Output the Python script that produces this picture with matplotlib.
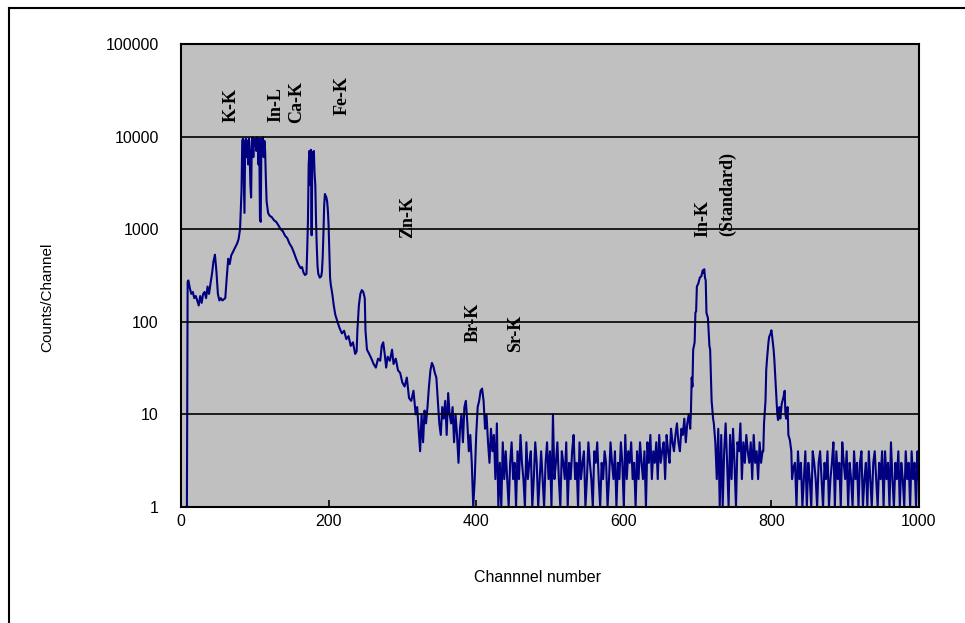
import matplotlib
matplotlib.use("Agg")
import matplotlib.pyplot as plt
from matplotlib.lines import Line2D
import numpy as np

# spectrum (channel, counts), segment by segment
ch_low = [8, 9, 10, 12, 14, 16, 18, 20, 22, 24, 26, 28, 30, 32, 34, 36, 38, 40,
          42, 44, 46, 48, 50, 52, 54, 56, 58, 60, 62, 64, 66, 68, 70, 72, 74,
          76, 78, 80, 82]
ct_low = [1, 270, 280, 230, 200, 210, 180, 190, 170, 150, 190, 160, 200, 210,
          180, 240, 200, 260, 330, 450, 530, 350, 200, 170, 180, 170, 175, 180,
          300, 480, 420, 520, 560, 600, 650, 700, 780, 1000, 2600]

# K-K / In-L
ch_kk = [83, 84, 85, 86, 87, 88, 89, 90, 91, 92, 93, 94, 95, 96, 97, 98, 99,
         100, 101, 102, 103, 104, 105, 106, 107, 108, 109, 110, 111, 112, 113,
         114, 115, 116, 118]
ct_kk = [9000, 9500, 4000, 1500, 9000, 9500, 6000, 9000, 5000, 9500, 7000,
         3000, 2200, 9000, 9800, 6000, 9500, 8000, 9500, 7000, 9800, 9000,
         5000, 9500, 1300, 1200, 9500, 8000, 9800, 6000, 9000, 7000, 3500,
         2000, 1500]

ch_tail = [120, 123, 126, 129, 132, 135, 138, 141, 144, 147, 150, 153, 156,
           159, 162, 164, 166, 168, 170]
ct_tail = [1400, 1350, 1250, 1200, 1100, 1000, 950, 850, 800, 700, 640, 560,
           480, 420, 380, 390, 340, 320, 330]

# Ca-K and Fe-K
ch_cafe = [171, 172, 173, 174, 175, 176, 177, 178, 179, 180, 181, 182, 183,
           184, 185, 186, 188, 190, 191, 192, 193, 194, 195, 196, 197, 198,
           199, 200, 201, 202, 203, 205, 207, 209]
ct_cafe = [600, 1200, 5000, 7000, 3000, 7200, 860, 6800, 6000, 7000, 4000,
           3000, 1200, 640, 400, 330, 300, 310, 350, 500, 900, 1800, 2400,
           2300, 2200, 2000, 1600, 1100, 600, 300, 250, 200, 150, 120]

ch_mid = [212, 215, 218, 221, 224, 227, 230, 233, 236, 238, 239, 241, 243,
          245, 247, 249, 250, 252, 255, 258, 261, 264, 267, 270, 272, 274,
          276, 278, 280, 283, 286, 288, 291, 294, 297, 300]
ct_mid = [100, 85, 75, 80, 65, 70, 55, 60, 45, 48, 80, 150, 200, 220, 210,
          180, 80, 50, 45, 40, 35, 32, 40, 38, 55, 60, 45, 32, 42, 38, 50, 35,
          40, 30, 28, 22]

ch_br = [303, 306, 309, 312, 315, 318, 320, 322, 324, 326, 328, 330, 332, 334,
         336, 338, 340, 342, 344, 346, 348, 350, 352, 354, 356, 358, 360, 362,
         364, 366, 368, 370, 372, 374, 376, 378, 380, 382, 384, 386, 388, 390,
         392, 394, 396, 398, 400, 402, 404, 406, 408, 410, 412, 414, 416, 418,
         420, 422, 424, 426, 428, 430]
ct_br = [20, 25, 15, 14, 18, 10, 12, 7, 4, 10, 5, 11, 8, 12, 20, 30, 36, 33,
         28, 25, 14, 8, 6, 12, 9, 14, 6, 17, 10, 8, 12, 5, 10, 6, 3, 7, 10, 5,
         12, 14, 8, 4, 6, 3, 1, 2, 6, 12, 14, 18, 19, 14, 7, 10, 5, 3, 7, 4, 6,
         2, 8, 1]

# flat region 432..690, every second channel
ct_flat1 = [3, 1, 5, 2, 4, 2, 1, 3, 5, 2, 3, 1, 4, 2, 6, 3, 2, 1, 5, 2,
            3, 4, 1, 2, 5, 3, 1, 2, 4, 2, 1, 3, 5, 2, 4, 1, 10, 2, 3, 5,
            2, 1, 4, 3, 2, 5, 1, 3, 2, 4, 6, 2, 3, 1, 5, 2, 3, 4, 1, 2,
            5, 3, 2, 1, 4, 3, 5, 2, 1, 3, 2, 4, 3, 1, 2, 5, 3, 2, 4, 1,
            3, 2, 5, 3, 1, 6, 2, 4, 3, 5, 2, 3, 1, 4, 2, 5, 3, 2, 4, 1,
            5, 3, 6, 2, 4, 3, 5, 2, 6, 3, 4, 5, 2, 6, 4, 3, 7, 5, 4, 6,
            8, 5, 4, 7, 6, 9, 5, 8, 10, 7]

# In-K (standard)
ch_ink = [691, 692, 693, 694, 696, 697, 698, 699, 701, 703, 705, 707, 708,
          709, 710, 711, 712, 714, 716, 717, 719, 721, 722]
ct_ink = [11, 25, 20, 50, 60, 125, 130, 240, 260, 300, 310, 360, 340, 370,
          300, 280, 125, 110, 55, 50, 14, 9, 8]

# 724..788, every second channel
ct_flat2 = [5, 2, 7, 1, 6, 1, 4, 8, 3, 1, 6, 2, 7, 3, 1, 5, 4, 8, 2, 5,
            3, 6, 4, 3, 5, 2, 6, 3, 4, 2, 5, 3, 4]

ch_p800 = [789, 790, 792, 793, 794, 796, 797, 799, 800, 801, 803, 804, 806,
           807, 808, 809, 811, 812, 814, 816, 818, 819, 820, 822, 823, 825,
           827, 828, 830]
ct_p800 = [4, 8, 14, 30, 39, 60, 69, 75, 81, 70, 50, 39, 20, 14, 10, 8.7, 12,
           9, 13, 15, 18, 10, 9, 12, 6, 5.3, 4, 2, 2.7]

# 832..998, every second channel, then 999
ct_flat3 = [3, 1, 4, 2, 3, 1, 2, 4, 1, 3, 2, 1, 4, 3, 2, 1, 3, 4, 2, 1,
            3, 2, 4, 1, 2, 3, 5, 1, 4, 2, 3, 1, 5, 3, 2, 4, 1, 3, 2, 1,
            4, 2, 3, 1, 3, 4, 1, 2, 3, 1, 4, 2, 1, 3, 4, 2, 1, 3, 2, 4,
            1, 4, 2, 3, 1, 5, 2, 1, 3, 2, 4, 1, 3, 2, 1, 4, 2, 3, 1, 4,
            2, 3, 1, 4, 2]

peak_names = ["K-K", "In-L", "Ca-K", "Fe-K", "Zn-K", "Br-K", "Sr-K", "In-K",
              "(Standard)"]
peak_x = [68, 128, 157, 218, 307, 396, 454, 707, 740]
peak_y = [14400, 14400, 14000, 17100, 804, 60, 47, 824, 835]

yticks = [1, 10, 100, 1000, 10000, 100000]
xticks = [0, 200, 400, 600, 800, 1000]


def main():
    channel = (ch_low + ch_kk + ch_tail + ch_cafe + ch_mid + ch_br
               + list(range(432, 691, 2)) + ch_ink + list(range(724, 789, 2))
               + ch_p800 + list(range(832, 1000, 2)) + [999])
    counts = (ct_low + ct_kk + ct_tail + ct_cafe + ct_mid + ct_br + ct_flat1
              + ct_ink + ct_flat2 + ct_p800 + ct_flat3)
    channel = np.array(channel)
    counts = np.array(counts, dtype=float)

    fig = plt.figure(figsize=(9.65, 6.23), dpi=100)
    ax = fig.add_axes([181 / 965, 1 - 507 / 623, (919 - 181) / 965,
                       (507 - 44) / 623])
    ax.set_facecolor("#c0c0c0")
    ax.plot(channel, counts, color="#000080", lw=1.5)
    ax.set_yscale("log")
    ax.set_xlim(0, 1000)
    ax.set_ylim(1, 100000)

    ax.set_yticks(yticks)
    ax.set_yticklabels([str(v) for v in yticks])
    ax.minorticks_off()
    ax.set_xticks(xticks)
    ax.set_xticklabels([str(v) for v in xticks])
    for v in yticks[1:-1]:
        ax.axhline(v, color="black", lw=1.2)
    for s in ax.spines.values():
        s.set_linewidth(1.5)
    ax.tick_params(axis="x", direction="in", length=5, width=1.2, pad=5,
                   labelsize=11.5)
    ax.tick_params(axis="y", length=0, pad=16, labelsize=11.5)
    for lab in ax.get_xticklabels() + ax.get_yticklabels():
        lab.set_family("Liberation Sans")

    for name, x, y in zip(peak_names, peak_x, peak_y):
        ax.text(x, y, name, rotation=90, ha="center", va="bottom",
                family="Liberation Serif", weight="bold", fontsize=13)

    fig.text(537 / 965, 1 - 577 / 623, "Channnel number", ha="center",
             va="center", family="Liberation Sans", fontsize=11.5)
    fig.text(47 / 965, 1 - 297 / 623, "Counts/Channel", rotation=90,
             ha="center", va="center",
             family=["Liberation Sans Narrow", "Liberation Sans"],
             fontsize=11)

    # frame around the picture (left and top edges only are visible)
    fig.add_artist(Line2D([9 / 965, 9 / 965], [0, 1 - 8 / 623],
                          color="black", lw=1.5))
    fig.add_artist(Line2D([9 / 965, 1], [1 - 8 / 623, 1 - 8 / 623],
                          color="black", lw=1.5))

    fig.savefig("out.png", dpi=100)


if __name__ == '__main__':
    main()
